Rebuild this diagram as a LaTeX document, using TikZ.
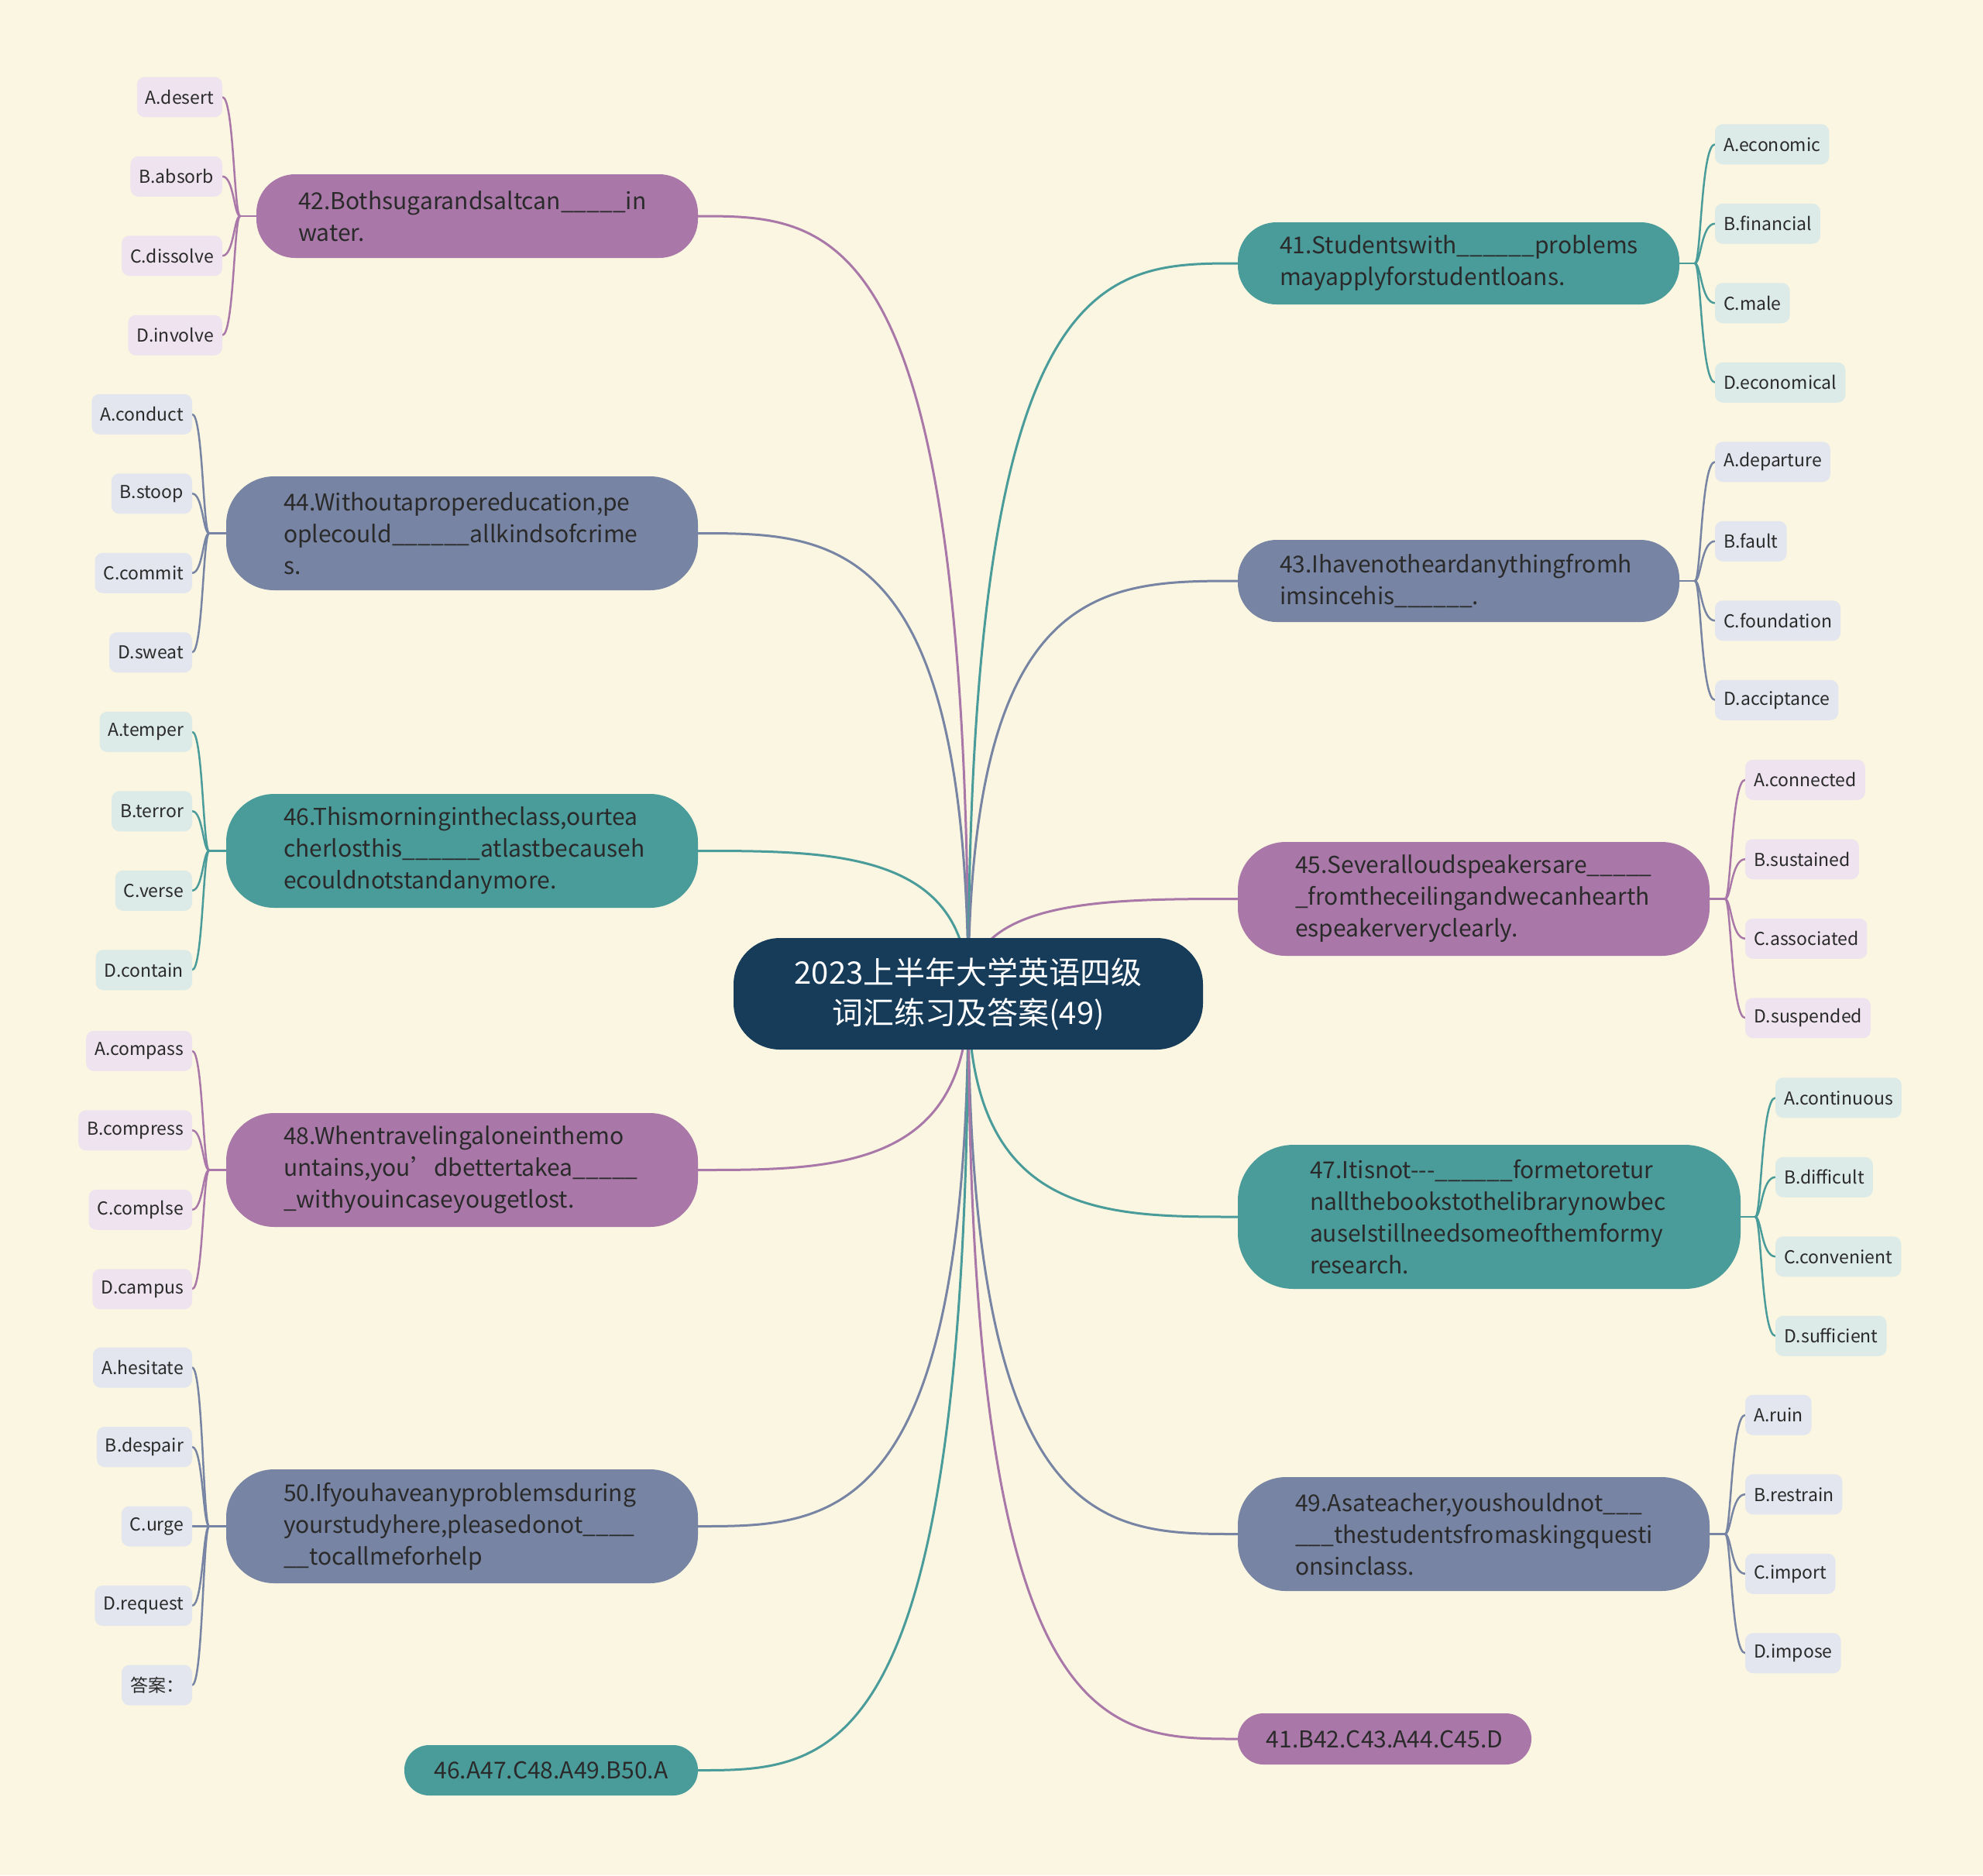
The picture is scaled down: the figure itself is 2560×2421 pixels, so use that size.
\documentclass[tikz,border=0pt]{standalone}
\usepackage{fontspec}
\setmainfont{Noto Sans CJK SC}
\definecolor{bgc}{HTML}{FAF6E1}
\definecolor{ctr}{HTML}{163C5A}
\definecolor{purM}{HTML}{A978A9}
\definecolor{purL}{HTML}{EEE3EE}
\definecolor{slaM}{HTML}{7784A4}
\definecolor{slaL}{HTML}{E3E6EF}
\definecolor{teaM}{HTML}{4A9C9B}
\definecolor{teaL}{HTML}{DCEBE8}
\definecolor{txt}{HTML}{2A2A2A}
\pgfdeclarelayer{back}
\pgfdeclarelayer{bg}
\pgfsetlayers{back,bg,main}
\tikzset{
  mainbox/.style={text=txt, font=\fontsize{30}{41}\selectfont, align=left, inner xsep=0pt, inner ysep=0pt, outer sep=0pt},
  centerbox/.style={fill=ctr, text=white, font=\fontsize{40}{52}\selectfont, align=center, minimum width=606pt, minimum height=144pt, rounded corners=60pt, inner sep=0pt},
  leafbox/.style={text=txt, font=\fontsize{23}{28}\selectfont, minimum height=52pt, inner xsep=11pt, inner ysep=0pt, rounded corners=10pt, outer sep=0pt},
  leafP/.style={leafbox, fill=purL},
  leafS/.style={leafbox, fill=slaL},
  leafT/.style={leafbox, fill=teaL},
  conP/.style={draw=purM, line width=3pt},
  conS/.style={draw=slaM, line width=3pt},
  conT/.style={draw=teaM, line width=3pt},
  lnP/.style={draw=purM, line width=2.5pt},
  lnS/.style={draw=slaM, line width=2.5pt},
  lnT/.style={draw=teaM, line width=2.5pt}
}
\begin{document}
\begin{tikzpicture}[x=1pt,y=-1pt]
\useasboundingbox (0,0) rectangle (2560,2421);
\begin{pgfonlayer}{back}
\fill[bgc] (0,0) rectangle (2560,2421);
\end{pgfonlayer}

\node[centerbox] (c) at (1250,1283) {2023上半年大学英语四级\\词汇练习及答案(49)};

% left main nodes
\node[mainbox, fill=purM, minimum width=570pt, text width=462pt, minimum height=108pt, rounded corners=50pt] (n42) at (616,279)
  {42.Bothsugarandsaltcan\_\_\_\_\_in\\water.};
\node[mainbox, fill=slaM, minimum width=609pt, text width=461pt, minimum height=147pt, rounded corners=62pt] (n44) at (596.5,688.5)
  {44.Withoutapropereducation,pe\\oplecould\_\_\_\_\_\_allkindsofcrime\\s.};
\node[mainbox, fill=teaM, minimum width=609pt, text width=461pt, minimum height=147pt, rounded corners=62pt] (n46) at (596.5,1098.5)
  {46.Thismorningintheclass,ourtea\\cherlosthis\_\_\_\_\_\_atlastbecauseh\\ecouldnotstandanymore.};
\node[mainbox, fill=purM, minimum width=609pt, text width=461pt, minimum height=147pt, rounded corners=62pt] (n48) at (596.5,1510.5)
  {48.Whentravelingaloneinthemo\\untains,you’dbettertakea\_\_\_\_\_\\\_withyouincaseyougetlost.};
\node[mainbox, fill=slaM, minimum width=609pt, text width=461pt, minimum height=147pt, rounded corners=62pt] (n50) at (596.5,1970.5)
  {50.Ifyouhaveanyproblemsduring\\yourstudyhere,pleasedonot\_\_\_\_\\\_\_tocallmeforhelp};
\node[mainbox, fill=teaM, minimum width=379pt, minimum height=65pt, rounded corners=32pt, align=center] (n46a) at (711.5,2285.5)
  {46.A47.C48.A49.B50.A};

% right main nodes
\node[mainbox, fill=teaM, minimum width=570pt, text width=462pt, minimum height=106pt, rounded corners=50pt] (n41) at (1883,340)
  {41.Studentswith\_\_\_\_\_\_problems\\mayapplyforstudentloans.};
\node[mainbox, fill=slaM, minimum width=570pt, text width=462pt, minimum height=106pt, rounded corners=50pt] (n43) at (1883,750)
  {43.Ihavenotheardanythingfromh\\imsincehis\_\_\_\_\_\_.};
\node[mainbox, fill=purM, minimum width=609pt, text width=461pt, minimum height=147pt, rounded corners=62pt] (n45) at (1902.5,1160.5)
  {45.Severalloudspeakersare\_\_\_\_\_\\\_fromtheceilingandwecanhearth\\espeakerveryclearly.};
\node[mainbox, fill=teaM, minimum width=649pt, text width=463pt, minimum height=186pt, rounded corners=72pt] (n47) at (1922.5,1571)
  {47.Itisnot-{}-{}-\_\_\_\_\_\_formetoretur\\nallthebookstothelibrarynowbec\\auseIstillneedsomeofthemformy\\research.};
\node[mainbox, fill=slaM, minimum width=609pt, text width=461pt, minimum height=147pt, rounded corners=62pt] (n49) at (1902.5,1980.5)
  {49.Asateacher,youshouldnot\_\_\_\\\_\_\_thestudentsfromaskingquesti\\onsinclass.};
\node[mainbox, fill=purM, minimum width=379pt, minimum height=66pt, rounded corners=33pt, align=center] (n41b) at (1787.5,2245)
  {41.B42.C43.A44.C45.D};

% center connectors
\begin{pgfonlayer}{bg}
\draw[conP] (c.center) .. controls (1250,279) and (1075,279) .. (n42.east);
\draw[conS] (c.center) .. controls (1250,688.5) and (1075,688.5) .. (n44.east);
\draw[conT] (c.center) .. controls (1250,1098.5) and (1075,1098.5) .. (n46.east);
\draw[conP] (c.center) .. controls (1250,1510.5) and (1075,1510.5) .. (n48.east);
\draw[conS] (c.center) .. controls (1250,1970.5) and (1075,1970.5) .. (n50.east);
\draw[conT] (c.center) .. controls (1250,2285.5) and (1075,2285.5) .. (n46a.east);
\draw[conT] (c.center) .. controls (1250,340) and (1424,340) .. (n41.west);
\draw[conS] (c.center) .. controls (1250,750) and (1424,750) .. (n43.west);
\draw[conP] (c.center) .. controls (1250,1160.5) and (1424,1160.5) .. (n45.west);
\draw[conT] (c.center) .. controls (1250,1571) and (1424,1571) .. (n47.west);
\draw[conS] (c.center) .. controls (1250,1980.5) and (1424,1980.5) .. (n49.west);
\draw[conP] (c.center) .. controls (1250,2245) and (1424,2245) .. (n41b.west);
\end{pgfonlayer}

% stub coordinates
\coordinate (b42) at (310,279);
\coordinate (b44) at (270,688.5);
\coordinate (b46) at (270,1098.5);
\coordinate (b48) at (270,1510.5);
\coordinate (b50) at (270,1970.5);
\coordinate (b41) at (2188,340);
\coordinate (b43) at (2188,750);
\coordinate (b45) at (2227,1160.5);
\coordinate (b47) at (2266,1571);
\coordinate (b49) at (2227,1980.5);
\begin{pgfonlayer}{bg}
\draw[lnP] (n42.west) -- (b42);
\draw[lnS] (n44.west) -- (b44);
\draw[lnT] (n46.west) -- (b46);
\draw[lnP] (n48.west) -- (b48);
\draw[lnS] (n50.west) -- (b50);
\draw[lnT] (n41.east) -- (b41);
\draw[lnS] (n43.east) -- (b43);
\draw[lnP] (n45.east) -- (b45);
\draw[lnT] (n47.east) -- (b47);
\draw[lnS] (n49.east) -- (b49);
\end{pgfonlayer}

% left leaves
\foreach \t [count=\i] in {A.desert,B.absorb,C.dissolve,D.involve}{
  \pgfmathsetmacro\ly{279-153.75+(\i-1)*102.5}
  \node[leafP, anchor=east] (l42-\i) at (287,\ly) {\t};
  \begin{pgfonlayer}{bg}\draw[lnP] (b42) .. controls (302,279) and (302,\ly) .. (l42-\i.east);\end{pgfonlayer}
}
\foreach \t [count=\i] in {A.conduct,B.stoop,C.commit,D.sweat}{
  \pgfmathsetmacro\ly{688.5-153.75+(\i-1)*102.5}
  \node[leafS, anchor=east] (l44-\i) at (248,\ly) {\t};
  \begin{pgfonlayer}{bg}\draw[lnS] (b44) .. controls (262,688.5) and (262,\ly) .. (l44-\i.east);\end{pgfonlayer}
}
\foreach \t [count=\i] in {A.temper,B.terror,C.verse,D.contain}{
  \pgfmathsetmacro\ly{1098.5-153.75+(\i-1)*102.5}
  \node[leafT, anchor=east] (l46-\i) at (248,\ly) {\t};
  \begin{pgfonlayer}{bg}\draw[lnT] (b46) .. controls (262,1098.5) and (262,\ly) .. (l46-\i.east);\end{pgfonlayer}
}
\foreach \t [count=\i] in {A.compass,B.compress,C.complse,D.campus}{
  \pgfmathsetmacro\ly{1510.5-153.75+(\i-1)*102.5}
  \node[leafP, anchor=east] (l48-\i) at (248,\ly) {\t};
  \begin{pgfonlayer}{bg}\draw[lnP] (b48) .. controls (262,1510.5) and (262,\ly) .. (l48-\i.east);\end{pgfonlayer}
}
\foreach \t [count=\i] in {A.hesitate,B.despair,C.urge,D.request,答案：}{
  \pgfmathsetmacro\ly{1970.5-205+(\i-1)*102.5}
  \node[leafS, anchor=east] (l50-\i) at (248,\ly) {\t};
  \begin{pgfonlayer}{bg}\draw[lnS] (b50) .. controls (262,1970.5) and (262,\ly) .. (l50-\i.east);\end{pgfonlayer}
}

% right leaves
\foreach \t [count=\i] in {A.economic,B.financial,C.male,D.economical}{
  \pgfmathsetmacro\ly{340-153.75+(\i-1)*102.5}
  \node[leafT, anchor=west] (l41-\i) at (2214,\ly) {\t};
  \begin{pgfonlayer}{bg}\draw[lnT] (b41) .. controls (2196,340) and (2196,\ly) .. (l41-\i.west);\end{pgfonlayer}
}
\foreach \t [count=\i] in {A.departure,B.fault,C.foundation,D.acciptance}{
  \pgfmathsetmacro\ly{750-153.75+(\i-1)*102.5}
  \node[leafS, anchor=west] (l43-\i) at (2214,\ly) {\t};
  \begin{pgfonlayer}{bg}\draw[lnS] (b43) .. controls (2196,750) and (2196,\ly) .. (l43-\i.west);\end{pgfonlayer}
}
\foreach \t [count=\i] in {A.connected,B.sustained,C.associated,D.suspended}{
  \pgfmathsetmacro\ly{1160.5-153.75+(\i-1)*102.5}
  \node[leafP, anchor=west] (l45-\i) at (2253,\ly) {\t};
  \begin{pgfonlayer}{bg}\draw[lnP] (b45) .. controls (2235,1160.5) and (2235,\ly) .. (l45-\i.west);\end{pgfonlayer}
}
\foreach \t [count=\i] in {A.continuous,B.difficult,C.convenient,D.sufficient}{
  \pgfmathsetmacro\ly{1571-153.75+(\i-1)*102.5}
  \node[leafT, anchor=west] (l47-\i) at (2292,\ly) {\t};
  \begin{pgfonlayer}{bg}\draw[lnT] (b47) .. controls (2274,1571) and (2274,\ly) .. (l47-\i.west);\end{pgfonlayer}
}
\foreach \t [count=\i] in {A.ruin,B.restrain,C.import,D.impose}{
  \pgfmathsetmacro\ly{1980.5-153.75+(\i-1)*102.5}
  \node[leafS, anchor=west] (l49-\i) at (2253,\ly) {\t};
  \begin{pgfonlayer}{bg}\draw[lnS] (b49) .. controls (2235,1980.5) and (2235,\ly) .. (l49-\i.west);\end{pgfonlayer}
}
\end{tikzpicture}
\end{document}
